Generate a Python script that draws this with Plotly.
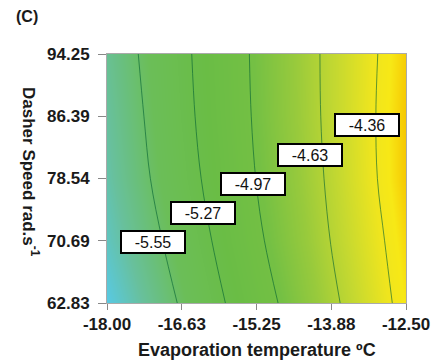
import plotly.graph_objects as go

# Data
temps = [-18.0, -16.625, -15.25, -13.875, -12.5]
temp_labels = ["-18.00", "-16.63", "-15.25", "-13.88", "-12.50"]
speeds = [62.83, 70.685, 78.54, 86.395, 94.25]
speed_labels = ["62.83", "70.69", "78.54", "86.39", "94.25"]

# estimated response at (speed row, temperature column)
z_62_83 = [-5.957, -5.524, -5.089, -4.676, -4.289]
z_70_69 = [-5.853, -5.444, -5.011, -4.624, -4.254]
z_78_54 = [-5.789, -5.377, -4.965, -4.594, -4.215]
z_86_39 = [-5.754, -5.341, -4.942, -4.579, -4.212]
z_94_25 = [-5.714, -5.322, -4.933, -4.576, -4.229]
z_grid = [z_62_83, z_70_69, z_78_54, z_86_39, z_94_25]

levels = [-5.55, -5.27, -4.97, -4.63, -4.36]
# label anchor positions (temperature, speed)
label_temps = [-17.15, -16.23, -15.32, -14.26, -13.21]
label_speeds = [70.56, 74.16, 77.88, 81.54, 85.29]

zmin, zmax = -5.96, -4.21
stops = [(-5.96, "#58c9e4"), (-5.75, "#68c09c"), (-5.50, "#6bbe58"),
         (-5.20, "#6abd45"), (-4.95, "#74c044"), (-4.75, "#98ca3c"),
         (-4.55, "#c6d930"), (-4.38, "#efe51e"), (-4.30, "#f7e816"),
         (-4.21, "#f6c500")]
colorscale = [[(v - zmin) / (zmax - zmin), c] for v, c in stops]

FONT = "Liberation Sans, Arial"

fig = go.Figure()
fig.add_trace(go.Heatmap(x=temps, y=speeds, z=z_grid, zsmooth="best",
                         colorscale=colorscale, zmin=zmin, zmax=zmax,
                         showscale=False, hoverinfo="skip"))
for lv in levels:
    fig.add_trace(go.Contour(x=temps, y=speeds, z=z_grid,
                             contours=dict(start=lv, end=lv, size=1, coloring="none"),
                             line=dict(color="rgba(0,95,50,0.6)", width=1, smoothing=1.0),
                             showscale=False, hoverinfo="skip"))

annotations = []
for lv, tx, sy in zip(levels, label_temps, label_speeds):
    annotations.append(dict(x=tx, y=sy, xref="x", yref="y", text=f"{lv:.2f}",
                            showarrow=False, font=dict(family=FONT, size=16, color="#111"),
                            bgcolor="white", bordercolor="black", borderwidth=2,
                            borderpad=1, width=60, height=18))

annotations.append(dict(x=-0.255, y=0.527, xref="paper", yref="paper",
                        text="<b>Dasher Speed rad.s<sup>-1</sup></b>", textangle=90, showarrow=False,
                        font=dict(family=FONT, size=17, color="#1a1a1a"),
                        xanchor="center", yanchor="middle"))
annotations.append(dict(x=0.5, y=-0.187, xref="paper", yref="paper",
                        text="<b>Evaporation temperature ºC</b>", showarrow=False,
                        font=dict(family=FONT, size=18, color="#1a1a1a"),
                        xanchor="center", yanchor="middle"))
annotations.append(dict(x=-0.267, y=1.149, xref="paper", yref="paper",
                        text="<b>(C)</b>", showarrow=False,
                        font=dict(family=FONT, size=16, color="#1a1a1a"),
                        xanchor="center", yanchor="middle"))

fig.update_layout(
    width=442, height=363,
    margin=dict(l=107, r=27, t=54, b=60),
    paper_bgcolor="white", plot_bgcolor="white",
    annotations=annotations,
    showlegend=False,
    xaxis=dict(range=[-18, -12.5], tickvals=temps, ticktext=[f"<b>{t}</b>" for t in temp_labels],
               ticks="outside", ticklen=6, tickcolor="#888", showgrid=False, zeroline=False,
               showline=True, linecolor="#aaa", linewidth=1, mirror=True,
               tickfont=dict(family=FONT, size=17, color="#1a1a1a")),
    yaxis=dict(range=[62.83, 94.25], tickvals=speeds, ticktext=[f"<b>{t}</b>" for t in speed_labels],
               ticks="outside", ticklen=8, tickcolor="#888", showgrid=False, zeroline=False,
               showline=True, linecolor="#aaa", linewidth=1, mirror=True, ticklabelstandoff=5,
               tickfont=dict(family=FONT, size=17, color="#1a1a1a")),
)

fig.write_html("out.html")
